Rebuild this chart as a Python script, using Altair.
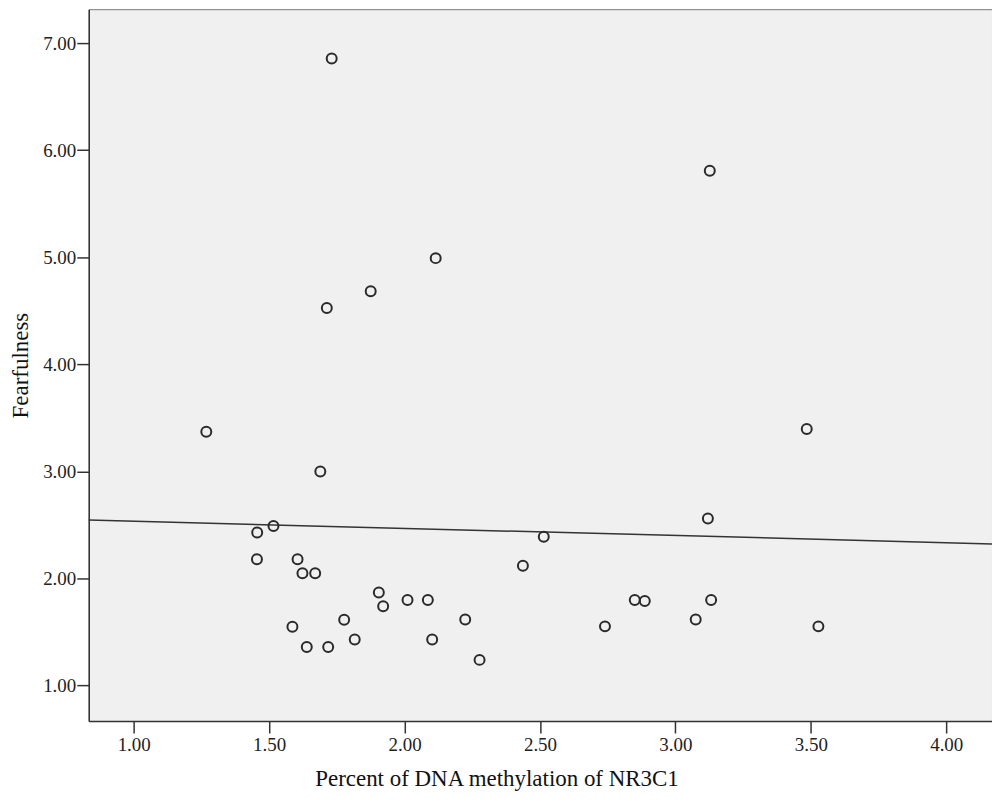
import altair as alt
import pandas as pd

methylation = [1.268, 1.689, 1.456, 1.516, 1.455, 1.605, 1.623, 1.670, 1.586, 1.639,
               1.718, 1.777, 1.816, 2.514, 2.437, 1.905, 1.921, 2.011, 2.086, 2.224,
               2.102, 2.277, 3.120, 2.850, 2.887, 3.132, 2.740, 3.075, 3.528, 3.127,
               1.731, 2.115, 1.875, 1.713, 3.485]
fearfulness = [3.37, 3.00, 2.43, 2.49, 2.18, 2.18, 2.05, 2.05, 1.55, 1.36,
               1.36, 1.615, 1.43, 2.39, 2.12, 1.87, 1.74, 1.80, 1.80, 1.618,
               1.43, 1.24, 2.56, 1.80, 1.79, 1.80, 1.553, 1.618, 1.553, 5.808,
               6.857, 4.992, 4.682, 4.526, 3.397]

x_ticks = [1.0, 1.5, 2.0, 2.5, 3.0, 3.5, 4.0]
y_ticks = [1, 2, 3, 4, 5, 6, 7]
x_domain = [0.834, 4.169]
y_domain = [0.669, 7.317]

df = pd.DataFrame({"x": methylation, "y": fearfulness})

font = "Liberation Serif"

xenc = alt.X("x:Q", scale=alt.Scale(domain=x_domain, nice=False, zero=False),
             axis=alt.Axis(values=x_ticks, format=".2f", title="Percent of DNA methylation of NR3C1",
                           grid=False, tickSize=12, tickColor="#333", tickWidth=1.5,
                           domainColor="#333", domainWidth=1.5, labelPadding=3,
                           labelFont=font, labelFontSize=19, labelColor="#222",
                           titleFont=font, titleFontSize=23, titleFontWeight="normal", titleColor="#111",
                           titleX=409, titleY=65, titleBaseline="alphabetic", titleAlign="center"))
yenc = alt.Y("y:Q", scale=alt.Scale(domain=y_domain, nice=False, zero=False),
             axis=alt.Axis(values=y_ticks, format=".2f", title="Fearfulness",
                           grid=False, tickSize=12, tickColor="#333", tickWidth=1.5,
                           domainColor="#333", domainWidth=1.5, labelPadding=1,
                           labelFont=font, labelFontSize=19, labelColor="#222",
                           titleFont=font, titleFontSize=23, titleFontWeight="normal", titleColor="#111",
                           titlePadding=10))

points = alt.Chart(df).mark_point(shape="circle", filled=False, size=100, strokeWidth=2,
                                  color="#2a2a2a", opacity=1).encode(x=xenc, y=yenc)

line = alt.Chart(df).transform_regression("x", "y", extent=x_domain).mark_line(
    color="#333", strokeWidth=1.5).encode(x=alt.X("x:Q"), y=alt.Y("y:Q"))

chart = (line + points).properties(
    width=906, height=714,
    autosize=alt.AutoSizeParams(type="none"),
    padding={"left": 81, "top": 0, "right": 0, "bottom": 72},
    background="white",
).configure_view(fill="#f0f0f0", stroke="#777", strokeWidth=1)

chart.save("out.html", embed_options={"renderer": "svg", "actions": False})
